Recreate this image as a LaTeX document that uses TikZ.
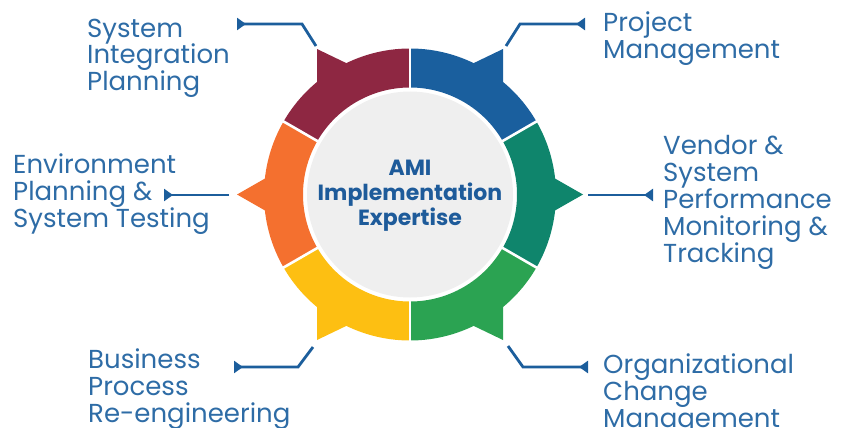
\documentclass[tikz,border=0pt]{standalone}
\usepackage{fontspec}
\setmainfont{Poppins}
\usetikzlibrary{arrows.meta,calc}
\definecolor{segblue}{HTML}{1A5F9E}
\definecolor{segmaroon}{HTML}{8E2742}
\definecolor{segorange}{HTML}{F4702F}
\definecolor{segyellow}{HTML}{FDBF12}
\definecolor{seggreen}{HTML}{2BA352}
\definecolor{segteal}{HTML}{0F856C}
\definecolor{hubgray}{HTML}{EFEFEF}
\definecolor{linkblue}{HTML}{1C5E9C}
\definecolor{labelblue}{HTML}{2E6CA6}
\definecolor{hubtext}{HTML}{1E5B9A}
\tikzset{
  lbl/.style={anchor=base west, inner sep=0pt, align=left, text=labelblue,
    font=\fontsize{26}{27}\selectfont},
  hub/.style={circle, fill=hubgray, minimum size=206pt, inner sep=0pt},
  hubtxt/.style={anchor=base, inner sep=0pt, align=center,
    text=hubtext, font=\bfseries\fontsize{22}{25}\selectfont},
  link/.style={draw=linkblue, line width=2.8pt,
    -{Triangle[reversed,length=9pt,width=12pt]}},
  sep/.style={draw=white, line width=2.6pt}
}
\begin{document}
\begin{tikzpicture}[x=1pt,y=-1pt]
\useasboundingbox (0,0) rectangle (849,428);
\coordinate (C) at (410,194.5);
\def\Ro{146}
\def\Ri{107}
% ring segments (coordinate angle = - visual angle)
\foreach \a/\b/\c in {-90/-30/segblue, -150/-90/segmaroon, 150/210/segorange,
                      90/150/segyellow, 30/90/seggreen, -30/30/segteal}{
  \fill[\c] ($(C)+(\a:\Ro)$) arc[start angle=\a, end angle=\b, radius=\Ro]
     -- ($(C)+(\b:\Ri)$) arc[start angle=\b, end angle=\a, radius=\Ri] -- cycle;
}
% spikes
\fill[segmaroon] ($(C)+(-93,-145.5)$) -- ($(C)+(-93,-105)$) -- ($(C)+(-40,-120)$) -- cycle;
\fill[segblue]   ($(C)+(93,-145.5)$) -- ($(C)+(93,-105)$) -- ($(C)+(40,-120)$) -- cycle;
\fill[segyellow] ($(C)+(-93,145.5)$) -- ($(C)+(-93,105)$) -- ($(C)+(-40,120)$) -- cycle;
\fill[seggreen]  ($(C)+(93,145.5)$) -- ($(C)+(93,105)$) -- ($(C)+(40,120)$) -- cycle;
\fill[segorange] ($(C)+(-173,0)$) -- ($(C)+(-125,-27.4)$) -- ($(C)+(-125,27.4)$) -- cycle;
\fill[segteal]   ($(C)+(173,0)$) -- ($(C)+(125,-27.4)$) -- ($(C)+(125,27.4)$) -- cycle;
% separators
\foreach \a in {30,90,150,210,270,330}{
  \draw[sep] ($(C)+(\a:100)$) -- ($(C)+(\a:150)$);
}
% hub
\node[hub] (hub) at (C) {};
\node[hubtxt] (hubt) at (410,225) {AMI\\Implementation\\Expertise};
% labels
\node[lbl] (sip) at (87,91) {System\\Integration\\Planning};
\node[lbl] (pm) at (603,59) {Project\\Management};
\node[lbl] (epst) at (13,227) {Environment\\Planning \&\\System Testing};
\node[lbl] (vspmt) at (663,262) {Vendor \&\\System\\Performance\\Monitoring \&\\Tracking};
\node[lbl] (bpr) at (88,422) {Business\\Process\\Re-engineering};
\node[lbl] (ocm) at (603,427) {Organizational\\Change\\Management};
% connectors
\coordinate (tl0) at (316,46); \coordinate (tl1) at (302,24); \coordinate (tl2) at (237,24);
\coordinate (tr0) at (506,46); \coordinate (tr1) at (520,24); \coordinate (tr2) at (585,24);
\coordinate (l0) at (229,195); \coordinate (l2) at (164,195);
\coordinate (r0) at (588,195); \coordinate (r2) at (653,195);
\coordinate (bl0) at (313,347); \coordinate (bl1) at (298,367); \coordinate (bl2) at (234,367);
\coordinate (br0) at (508,346); \coordinate (br1) at (523,367); \coordinate (br2) at (588,367);
\draw[link] (tl0) -- (tl1) -- (tl2);
\draw[link] (tr0) -- (tr1) -- (tr2);
\draw[link] (l0) -- (l2);
\draw[link] (r0) -- (r2);
\draw[link] (bl0) -- (bl1) -- (bl2);
\draw[link] (br0) -- (br1) -- (br2);
\end{tikzpicture}
\end{document}
